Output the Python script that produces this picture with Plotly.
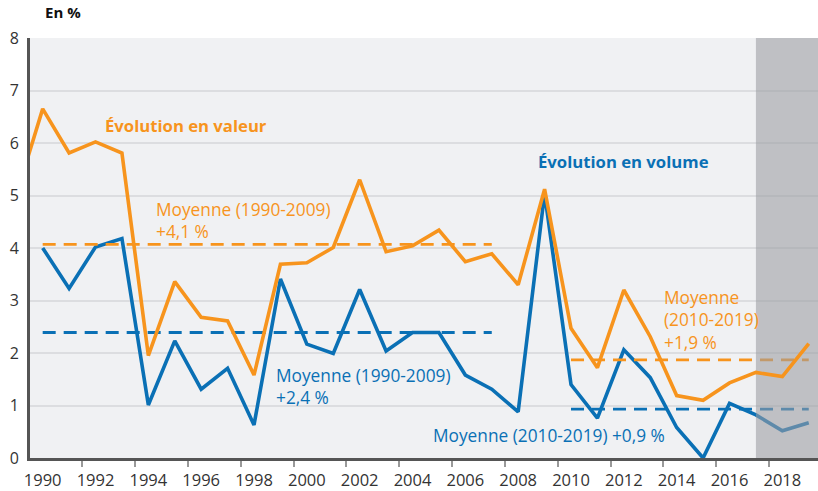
import plotly.graph_objects as go

# ---- data ----
years_value = list(range(1989, 2020))
value_growth = [5.0, 6.65, 5.81, 6.02, 5.81, 1.95, 3.36, 2.68, 2.61, 1.58, 3.69,
                3.72, 4.01, 5.30, 3.93, 4.04, 4.34, 3.74, 3.89, 3.30, 5.12,
                2.47, 1.72, 3.20, 2.31, 1.19, 1.10, 1.43, 1.63, 1.55, 2.18]

years_volume = list(range(1990, 2020))
volume_growth = [4.00, 3.23, 4.02, 4.18, 1.01, 2.23, 1.31, 1.71, 0.63, 3.41,
                 2.17, 1.99, 3.21, 2.04, 2.39, 2.39, 1.58, 1.31, 0.88, 5.04,
                 1.40, 0.76, 2.06, 1.53, 0.58, 0.00, 1.04, 0.82, 0.52, 0.67]

mean_periods_x = [[1990, 2007], [2010, 2019]]
mean_value = [4.07, 1.87]
mean_volume = [2.39, 0.93]

forecast_start = 2017
x_range = [1989.52, 2019.35]
y_range = [0, 8]
x_tick_years = list(range(1990, 2020, 2))
x_tick_marks = [y + 1.5 for y in range(1990, 2018, 2)]
y_ticks = list(range(0, 9))

ORANGE = "#F7941D"
BLUE = "#0A70B5"
FONT = "Open Sans"

fig = go.Figure()

# blue volume line (under the forecast band)
fig.add_trace(go.Scatter(x=years_volume, y=volume_growth, mode="lines",
                         line=dict(color=BLUE, width=3.6), hoverinfo="skip"))

# mean dashed lines
for xs, m in zip(mean_periods_x, mean_value):
    fig.add_trace(go.Scatter(x=xs, y=[m, m], mode="lines",
                             line=dict(color=ORANGE, width=2.8, dash="13px,8px")))
for xs, m in zip(mean_periods_x, mean_volume):
    fig.add_trace(go.Scatter(x=xs, y=[m, m], mode="lines",
                             line=dict(color=BLUE, width=2.8, dash="13px,8px")))

# forecast band
fig.add_trace(go.Scatter(x=[forecast_start, x_range[1], x_range[1], forecast_start],
                         y=[y_range[0], y_range[0], y_range[1], y_range[1]],
                         mode="lines", fill="toself",
                         fillcolor="rgba(155,157,162,0.58)",
                         line=dict(width=0), hoverinfo="skip"))

# orange value line (above band)
fig.add_trace(go.Scatter(x=years_value, y=value_growth, mode="lines",
                         line=dict(color=ORANGE, width=3.6), hoverinfo="skip"))

REG = 17.3
BOLD = 16.7
ann = [
    dict(text="<b>En %</b>", xref="paper", yref="paper", x=0.0165, y=1.061,
         xanchor="left", yanchor="middle", font=dict(size=15, color="#111")),
    dict(text="<b>Évolution en valeur</b>", x=1992.3, y=6.33,
         xanchor="left", yanchor="middle", font=dict(size=BOLD, color=ORANGE)),
    dict(text="<b>Évolution en volume</b>", x=2008.68, y=5.657,
         xanchor="left", yanchor="middle", font=dict(size=BOLD, color=BLUE)),
    dict(text="Moyenne (1990-2009)<br>+4,1 %", x=1994.22, y=4.53, align="left",
         xanchor="left", yanchor="middle", font=dict(size=REG, color=ORANGE)),
    dict(text="Moyenne (1990-2009)<br>+2,4 %", x=1998.77, y=1.37, align="left",
         xanchor="left", yanchor="middle", font=dict(size=REG, color=BLUE)),
    dict(text="Moyenne (2010-2019) +0,9 %", x=2004.7, y=0.43, align="left",
         xanchor="left", yanchor="middle", font=dict(size=REG, color=BLUE)),
    dict(text="Moyenne<br>(2010-2019)<br>+1,9 %", x=2013.43, y=2.62, align="left",
         xanchor="left", yanchor="middle", font=dict(size=REG, color=ORANGE)),
]
for a in ann:
    a.setdefault("xref", "x")
    a.setdefault("yref", "y")
    a["showarrow"] = False
    fig.add_annotation(**a)

fig.update_layout(
    width=818, height=491,
    margin=dict(l=30, r=0, t=38, b=33),
    paper_bgcolor="white", plot_bgcolor="#F0F1F3",
    showlegend=False,
    font=dict(family=FONT, color="#333"),
    xaxis=dict(range=x_range, tickmode="array", tickvals=x_tick_years,
               ticktext=[str(y) for y in x_tick_years], ticks="",
               showgrid=False, zeroline=False, showline=True,
               linecolor="#555", linewidth=3, automargin=False,
               ticklabelstandoff=5,
               tickfont=dict(size=16.5, color="#333", family=FONT),
               minor=dict(tickmode="array", tickvals=x_tick_marks, ticks="outside",
                          ticklen=6, tickwidth=1.5, tickcolor="#999", showgrid=False)),
    yaxis=dict(range=y_range, tickmode="array", tickvals=y_ticks, ticks="",
               showgrid=True, gridcolor="#DCDDE0", gridwidth=1.5,
               zeroline=False, showline=True, linecolor="#555", linewidth=3,
               automargin=False, ticklabelstandoff=5,
               tickfont=dict(size=16, color="#333", family=FONT)),
)

# remove the default 8px page margin so the figure fills the 818x491 window
fig.write_html("out.html",
               config={"displayModeBar": False},
               post_script="document.body.style.margin='0';document.body.style.overflow='hidden';")
